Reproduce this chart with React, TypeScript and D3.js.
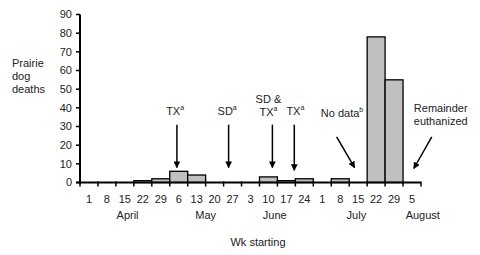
import * as d3 from 'd3'

const WIDTH = 480
const HEIGHT = 255
const MARGIN = { top: 14.5, left: 80, right: 59, bottom: 72.5 }

const WEEKS = ['1', '8', '15', '22', '29', '6', '13', '20', '27', '3', '10', '17', '24', '1', '8', '15', '22', '29', '5']
const DEATHS = [0, 0, 0, 1, 2, 6, 4, 0, 0, 0, 3, 1, 2, 0, 2, 0, 78, 55, 0]
const Y_TICKS = [0, 10, 20, 30, 40, 50, 60, 70, 80, 90]

// month labels: name and position in band units from the first week
const MONTHS = ['April', 'May', 'June', 'July', 'August']
const MONTH_POS = [2.65, 7.0, 10.85, 15.4, 19.1]

// annotations: label lines, arrow start/end (band units, deaths units)
const NOTES = [
  { lines: [['TX', 'a']], lx: 5.3, ly: 36, x1: 5.4, y1: 31, x2: 5.4, y2: 8 },
  { lines: [['SD', 'a']], lx: 8.2, ly: 36, x1: 8.28, y1: 31, x2: 8.28, y2: 8 },
  { lines: [['SD &', ''], ['TX', 'a']], lx: 10.5, ly: 42.5, x1: 10.72, y1: 31, x2: 10.72, y2: 8 },
  { lines: [['TX', 'a']], lx: 12.0, ly: 36, x1: 11.94, y1: 31, x2: 11.94, y2: 6.5 },
  { lines: [['No data', 'b']], lx: 14.6, ly: 35, x1: 14.3, y1: 24.5, x2: 15.3, y2: 8 },
  { lines: [['Remainder', ''], ['euthanized', '']], lx: 20.1, ly: 38, x1: 19.6, y1: 24.5, x2: 18.6, y2: 7.5 },
]

const FONT = 'Liberation Sans, Arial, sans-serif'

export default function App() {
  const innerW = WIDTH - MARGIN.left - MARGIN.right
  const y0 = HEIGHT - MARGIN.bottom

  const x = d3.scaleBand<number>()
    .domain(WEEKS.map((_, i) => i))
    .range([MARGIN.left, MARGIN.left + innerW])
    .padding(0)

  const y = d3.scaleLinear()
    .domain([0, 90])
    .range([y0, MARGIN.top])

  const bw = x.bandwidth()
  const pos = (f: number) => MARGIN.left + f * bw

  return (
    <div style={{ position: 'fixed', left: 0, top: 0 }}>
      <svg width={WIDTH} height={HEIGHT} style={{ display: 'block', background: '#fff' }} fontFamily={FONT}>
        <defs>
          <marker id="head" viewBox="0 0 10 10" refX="9" refY="5" markerWidth="4.5" markerHeight="4.5" orient="auto">
            <path d="M0,0 L10,5 L0,10 z" fill="#000" />
          </marker>
        </defs>

        {/* Bars */}
        {DEATHS.map((d, i) => d > 0 && (
          <rect
            key={i}
            x={x(i)}
            y={y(d)}
            width={bw}
            height={y0 - y(d)}
            fill="#c0c0c0"
            stroke="#000"
            strokeWidth={1.3}
          />
        ))}

        {/* Y axis */}
        <line x1={MARGIN.left} x2={MARGIN.left} y1={y(90)} y2={y0 + 1} stroke="#000" strokeWidth={2} />
        {Y_TICKS.map(t => (
          <g key={t}>
            <line x1={MARGIN.left - 4} x2={MARGIN.left} y1={y(t)} y2={y(t)} stroke="#000" strokeWidth={1.5} />
            <text x={MARGIN.left - 8} y={y(t)} dy="0.35em" textAnchor="end" fontSize={11} fill="#222">{t}</text>
          </g>
        ))}

        {/* X axis */}
        <line x1={MARGIN.left - 4} x2={MARGIN.left + innerW} y1={y0} y2={y0} stroke="#000" strokeWidth={2} />
        {d3.range(WEEKS.length + 1).map(i => (
          <line key={i} x1={pos(i)} x2={pos(i)} y1={y0 - 1} y2={y0 + 4} stroke="#000" strokeWidth={1.5} />
        ))}
        {WEEKS.map((w, i) => (
          <text key={i} x={(x(i) ?? 0) + bw / 2} y={y0 + 20} textAnchor="middle" fontSize={11} fill="#222">{w}</text>
        ))}
        {MONTHS.map((m, i) => (
          <text key={m} x={pos(MONTH_POS[i])} y={y0 + 36} textAnchor="middle" fontSize={11} fill="#222">{m}</text>
        ))}
        <text x={258} y={y0 + 63} textAnchor="middle" fontSize={11} fill="#222">Wk starting</text>

        {/* Y title */}
        {['Prairie', 'dog', 'deaths'].map((s, i) => (
          <text key={s} x={12} y={67 + i * 13} fontSize={11} fill="#222">{s}</text>
        ))}

        {/* Annotations */}
        {NOTES.map((n, k) => (
          <g key={k}>
            {n.lines.map(([main, sup], j) => (
              <text key={j} x={pos(n.lx)} y={y(n.ly) + j * 13} textAnchor="middle" fontSize={11} fill="#222">
                {main}
                {sup && <tspan fontSize={7} dy={-5}>{sup}</tspan>}
              </text>
            ))}
            <line
              x1={pos(n.x1)} y1={y(n.y1)}
              x2={pos(n.x2)} y2={y(n.y2)}
              stroke="#000" strokeWidth={1.5}
              markerEnd="url(#head)"
            />
          </g>
        ))}
      </svg>
    </div>
  )
}
